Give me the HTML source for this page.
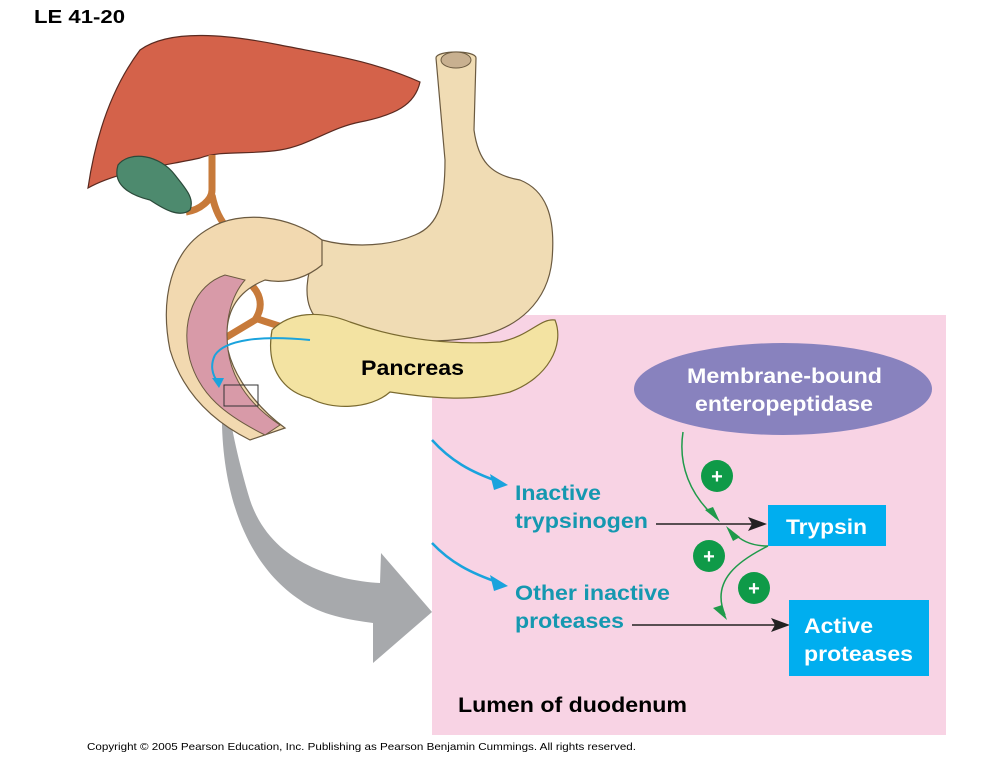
<!DOCTYPE html>
<html><head><meta charset="utf-8"><style>
body{margin:0;background:#fff;width:989px;height:768px;overflow:hidden;font-family:"Liberation Sans",Arial,sans-serif}
</style></head><body>
<svg width="989" height="768" viewBox="0 0 989 768" xmlns="http://www.w3.org/2000/svg" font-family="Liberation Sans, Arial, sans-serif">
<text x="34" y="23" font-size="18" font-weight="bold" textLength="91" lengthAdjust="spacingAndGlyphs">LE 41-20</text>
<rect x="432" y="315" width="514" height="420" fill="#f8d3e4"/>
<!-- grey arrow -->
<path d="M222,405 C220,480 240,560 300,600 C320,615 350,620 373,623 L373,663 L432,612 L381,553 L380,583 C330,580 270,560 250,500 C238,460 232,430 228,405 Z" fill="#a7a9ac"/>
<!-- liver -->
<path d="M88,188 C95,140 110,90 140,50 C170,28 230,35 280,45 C330,55 370,60 420,82 C415,105 395,115 360,122 C330,128 310,145 280,150 C250,155 220,150 200,158 C170,165 120,170 88,188 Z" fill="#d4624a" stroke="#5a2a20" stroke-width="1.2"/>
<!-- bile ducts -->
<path d="M212,155 L212,190 C212,200 200,210 186,212 M212,195 C215,210 220,220 230,232 M245,280 C260,290 265,305 255,320 L225,338 M255,318 C275,325 300,332 320,340" fill="none" stroke="#c77a3a" stroke-width="7"/>
<!-- gallbladder -->
<path d="M118,165 C130,150 160,155 175,175 C185,188 195,198 190,210 C180,218 165,210 150,200 C130,195 112,185 118,165 Z" fill="#4d8a6e" stroke="#2b4a3a" stroke-width="1.2"/>
<!-- stomach -->
<path d="M436,58 C436,50 476,50 476,58 L474,130 C478,160 490,175 520,180 C545,190 556,215 552,260 C548,300 520,330 470,338 C420,345 360,340 320,322 C300,305 305,270 322,240 C340,245 380,250 415,235 C440,225 445,200 445,160 Z" fill="#f0dcb4" stroke="#6b5a40" stroke-width="1.2"/>
<ellipse cx="456" cy="60" rx="15" ry="8" fill="#c8b090" stroke="#6b5a40"/>
<!-- duodenum C -->
<path d="M322,240 C290,215 240,210 210,228 C170,250 160,300 170,350 C182,390 210,420 250,440 L285,428 C260,410 235,380 228,350 C222,310 240,290 265,280 C290,285 310,275 322,265 Z" fill="#f2d9b0" stroke="#6b5a40" stroke-width="1.2"/>
<path d="M225,275 C195,285 180,320 190,360 C200,395 225,415 265,435 L280,425 C250,405 232,380 228,350 C224,320 232,295 245,280 Z" fill="#d89aa8" stroke="#6b5a40" stroke-width="1"/>
<!-- pancreas -->
<path d="M272,330 C290,312 320,310 350,322 C400,340 450,345 500,342 C530,336 540,318 555,320 C565,345 548,378 510,392 C470,402 430,398 390,392 C370,410 330,410 310,398 C285,392 265,370 272,330 Z" fill="#f3e3a2" stroke="#7a6a30" stroke-width="1.2"/>
<path d="M215,355 C225,340 260,335 310,340" fill="none" stroke="#1aa3dd" stroke-width="2"/>
<path d="M215,355 C210,365 212,375 218,382" fill="none" stroke="#1aa3dd" stroke-width="2"/>
<polygon points="212,378 224,378 219,388" fill="#1aa3dd"/>
<rect x="224" y="385" width="34" height="21" fill="none" stroke="#333" stroke-width="1"/>
<text x="361" y="375" font-size="21" font-weight="bold" textLength="103" lengthAdjust="spacingAndGlyphs">Pancreas</text>
<!-- enteropeptidase -->
<ellipse cx="783" cy="389" rx="149" ry="46" fill="#8882be"/>
<text x="687" y="383" font-size="21" font-weight="bold" fill="#fff" textLength="195" lengthAdjust="spacingAndGlyphs">Membrane-bound</text>
<text x="695" y="411" font-size="21" font-weight="bold" fill="#fff" textLength="178" lengthAdjust="spacingAndGlyphs">enteropeptidase</text>
<!-- blue arrows -->
<path d="M432,440 C450,460 470,472 500,482" fill="none" stroke="#1aa3dd" stroke-width="2.5"/>
<polygon points="508,485 490,474 494,490" fill="#1aa3dd"/>
<path d="M432,543 C450,562 470,573 500,583" fill="none" stroke="#1aa3dd" stroke-width="2.5"/>
<polygon points="508,586 490,575 494,591" fill="#1aa3dd"/>
<g font-size="21" font-weight="bold" fill="#1598b0">
<text x="515" y="500" textLength="86" lengthAdjust="spacingAndGlyphs">Inactive</text>
<text x="515" y="528" textLength="133" lengthAdjust="spacingAndGlyphs">trypsinogen</text>
<text x="515" y="600" textLength="155" lengthAdjust="spacingAndGlyphs">Other inactive</text>
<text x="515" y="628" textLength="109" lengthAdjust="spacingAndGlyphs">proteases</text>
</g>
<!-- black arrows -->
<line x1="656" y1="524" x2="755" y2="524" stroke="#222" stroke-width="1.5"/>
<polygon points="767,524 748,517 752,524 748,531" fill="#222"/>
<line x1="632" y1="625" x2="778" y2="625" stroke="#222" stroke-width="1.5"/>
<polygon points="790,625 771,618 775,625 771,632" fill="#222"/>
<!-- boxes -->
<rect x="768" y="505" width="118" height="41" fill="#00aeef"/>
<text x="786" y="534" font-size="21" font-weight="bold" fill="#fff" textLength="81" lengthAdjust="spacingAndGlyphs">Trypsin</text>
<rect x="789" y="600" width="140" height="76" fill="#00aeef"/>
<text x="804" y="633" font-size="21" font-weight="bold" fill="#fff" textLength="69" lengthAdjust="spacingAndGlyphs">Active</text>
<text x="804" y="661" font-size="21" font-weight="bold" fill="#fff" textLength="109" lengthAdjust="spacingAndGlyphs">proteases</text>
<!-- green arrows -->
<g fill="none" stroke="#1f9a4a" stroke-width="1.5">
<path d="M683,432 C678,465 690,495 716,518"/>
<path d="M768,546 C750,546 740,540 730,530"/>
<path d="M768,546 C740,560 710,580 725,615"/>
</g>
<polygon points="720,522 705,510 713,507" fill="#1f9a4a"/>
<polygon points="726,526 740,537 733,541" fill="#1f9a4a"/>
<polygon points="727,620 713,608 722,605" fill="#1f9a4a"/>
<g fill="#0f9a48"><circle cx="717" cy="476" r="16"/><circle cx="709" cy="556" r="16"/><circle cx="754" cy="588" r="16"/></g>
<g fill="#fff" font-size="20" font-weight="bold" text-anchor="middle"><text x="717" y="483">+</text><text x="709" y="563">+</text><text x="754" y="595">+</text></g>
<text x="458" y="712" font-size="21" font-weight="bold" textLength="229" lengthAdjust="spacingAndGlyphs">Lumen of duodenum</text>
<text x="87" y="750" font-size="10.5" textLength="549" lengthAdjust="spacingAndGlyphs">Copyright © 2005 Pearson Education, Inc. Publishing as Pearson Benjamin Cummings. All rights reserved.</text>
</svg>
</body></html>
